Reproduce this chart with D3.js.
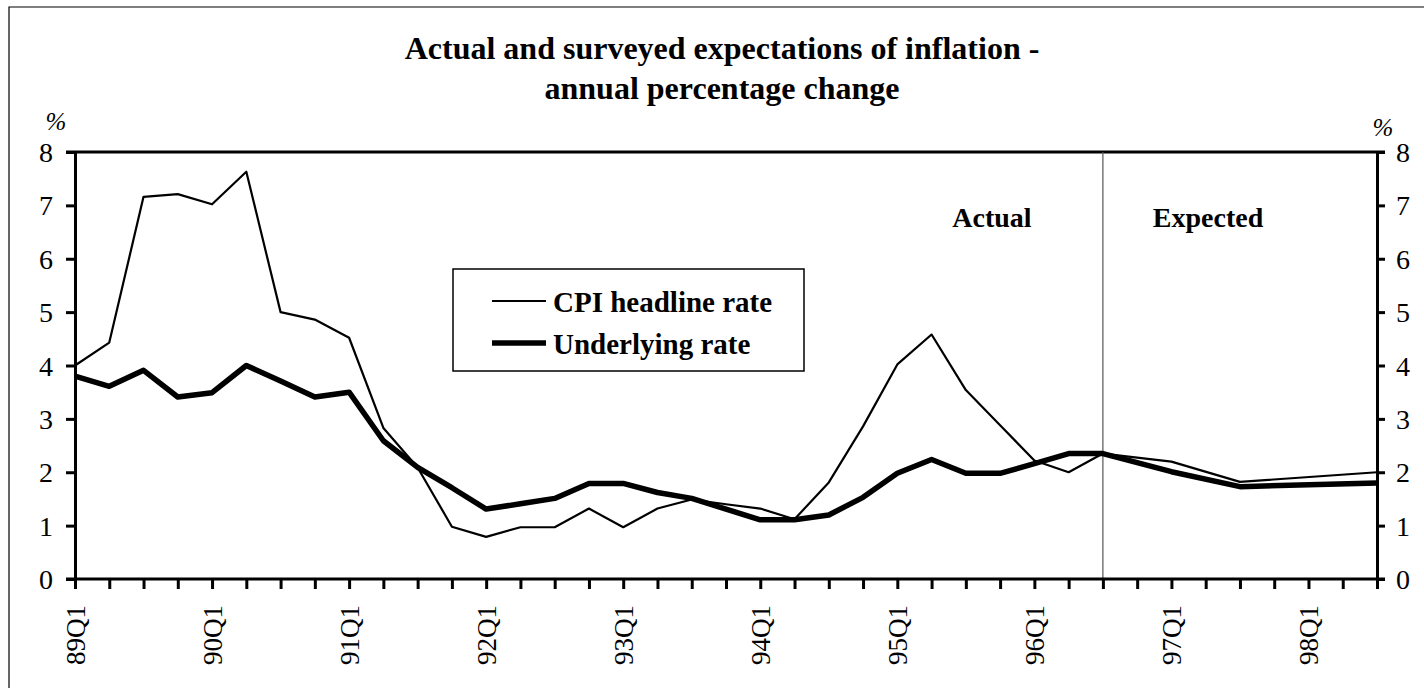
<!DOCTYPE html>
<html>
<head>
<meta charset="utf-8">
<script src="https://cdn.jsdelivr.net/npm/d3@7"></script>
<style>
html,body{margin:0;padding:0;background:#fff;}
svg{display:block;}
text{font-family:"Liberation Serif","Times New Roman",serif;fill:#000;}
</style>
</head>
<body>
<svg id="chart" width="1424" height="688"></svg>
<script>
const quarters = ["89Q1","89Q2","89Q3","89Q4","90Q1","90Q2","90Q3","90Q4",
  "91Q1","91Q2","91Q3","91Q4","92Q1","92Q2","92Q3","92Q4",
  "93Q1","93Q2","93Q3","93Q4","94Q1","94Q2","94Q3","94Q4",
  "95Q1","95Q2","95Q3","95Q4","96Q1","96Q2","96Q3","96Q4",
  "97Q1","97Q2","97Q3","97Q4","98Q1","98Q2","98Q3"];
const cpiHeadline = [4.00,4.43,7.16,7.21,7.02,7.63,5.00,4.86,
  4.52,2.83,2.09,0.98,0.79,0.97,0.97,1.32,
  0.97,1.32,1.49,1.40,1.32,1.12,1.81,2.86,
  4.02,4.58,3.54,2.88,2.22,2.00,2.35,null,
  2.20,null,1.82,null,null,null,2.00];
const underlying = [3.80,3.61,3.91,3.41,3.49,4.00,3.71,3.41,
  3.50,2.59,2.09,1.71,1.31,1.41,1.51,1.79,
  1.79,1.62,1.51,1.31,1.11,1.11,1.20,1.53,
  1.98,2.24,1.98,1.98,2.16,2.35,2.35,null,
  2.01,null,1.73,null,null,null,1.80];
const yTicks = [0,1,2,3,4,5,6,7,8];
const titleLines = ["Actual and surveyed expectations of inflation -","annual percentage change"];
const seriesNames = ["CPI headline rate","Underlying rate"];
const splitQuarter = "96Q3";

const svg = d3.select("#chart");

// outer frame (top and left edges)
svg.append("path").attr("d","M9,690 V7 H1424").attr("fill","none").attr("stroke","#000").attr("stroke-width",1.2);

const x = d3.scalePoint().domain(quarters).range([75,1377]);
const y = d3.scaleLinear().domain([0,8]).range([579,152]);

// title
svg.append("g").selectAll("text").data(titleLines).join("text")
  .attr("x",722).attr("y",(d,i)=>59+i*40)
  .attr("text-anchor","middle").attr("font-weight","bold").attr("font-size",32)
  .text(d=>d);

// percent labels
svg.append("text").attr("x",56).attr("y",130).attr("text-anchor","middle")
  .attr("font-style","italic").attr("font-size",25).text("%");
svg.append("text").attr("x",1383).attr("y",136).attr("text-anchor","middle")
  .attr("font-style","italic").attr("font-size",25).text("%");

// top frame line
svg.append("line").attr("x1",66).attr("x2",1385).attr("y1",y(8)).attr("y2",y(8))
  .attr("stroke","#000").attr("stroke-width",3);

// divider
svg.append("line").attr("x1",x(splitQuarter)).attr("x2",x(splitQuarter))
  .attr("y1",y(8)).attr("y2",y(0)).attr("stroke","#555").attr("stroke-width",1.2);

function styleAxis(g){
  g.select(".domain").attr("stroke-width",3);
  g.selectAll(".tick line").attr("stroke-width",3);
  g.selectAll(".tick text").attr("font-family","Liberation Serif, Times New Roman, serif");
}

const gl = svg.append("g").attr("transform",`translate(${x(quarters[0])},0)`)
  .call(d3.axisLeft(y).tickValues(yTicks).tickSize(9).tickSizeOuter(0).tickPadding(13).tickFormat(d3.format("d")));
gl.selectAll(".tick text").attr("font-size",28).attr("dy","0.34em");
styleAxis(gl);

const gr = svg.append("g").attr("transform",`translate(${x(quarters[quarters.length-1])},0)`)
  .call(d3.axisRight(y).tickValues(yTicks).tickSize(8).tickSizeOuter(0).tickPadding(11).tickFormat(d3.format("d")));
gr.selectAll(".tick text").attr("font-size",28).attr("dy","0.34em");
styleAxis(gr);

const gb = svg.append("g").attr("transform",`translate(0,${y(0)})`)
  .call(d3.axisBottom(x).tickSize(10).tickSizeOuter(0).tickFormat(d=>d.endsWith("Q1")?d:""));
gb.selectAll(".tick text").attr("font-size",27)
  .attr("text-anchor","end").attr("transform","rotate(-90)")
  .attr("x",-26).attr("y",0).attr("dy","0.35em");
styleAxis(gb);
gb.select(".domain").attr("d",`M${x(quarters[0])-9},0H${x(quarters[quarters.length-1])+8}`);

// lines
const line = d3.line().x(d=>x(d.q)).y(d=>y(d.v)).curve(d3.curveLinear);
const cpiPts = quarters.map((q,i)=>({q,v:cpiHeadline[i]})).filter(d=>d.v!=null);
const undPts = quarters.map((q,i)=>({q,v:underlying[i]})).filter(d=>d.v!=null);

svg.append("path").datum(undPts).attr("d",line).attr("fill","none")
  .attr("stroke","#000").attr("stroke-width",5.5).attr("stroke-linejoin","round");
svg.append("path").datum(cpiPts).attr("d",line).attr("fill","none")
  .attr("stroke","#000").attr("stroke-width",2.2).attr("stroke-linejoin","round");

// region labels
svg.append("text").attr("x",992).attr("y",227).attr("text-anchor","middle")
  .attr("font-weight","bold").attr("font-size",28).text("Actual");
svg.append("text").attr("x",1208).attr("y",227).attr("text-anchor","middle")
  .attr("font-weight","bold").attr("font-size",28).text("Expected");

// legend
const lg = svg.append("g");
lg.append("rect").attr("x",453).attr("y",269).attr("width",351).attr("height",102)
  .attr("fill","#fff").attr("stroke","#000").attr("stroke-width",1.5);
const widths=[2.2,5.5];
seriesNames.forEach((name,i)=>{
  const yy = 301 + i*42;
  lg.append("line").attr("x1",492).attr("x2",546).attr("y1",yy).attr("y2",yy)
    .attr("stroke","#000").attr("stroke-width",widths[i]);
  lg.append("text").attr("x",553).attr("y",yy+11).attr("font-weight","bold")
    .attr("font-size",29).text(name);
});
</script>
</body>
</html>
